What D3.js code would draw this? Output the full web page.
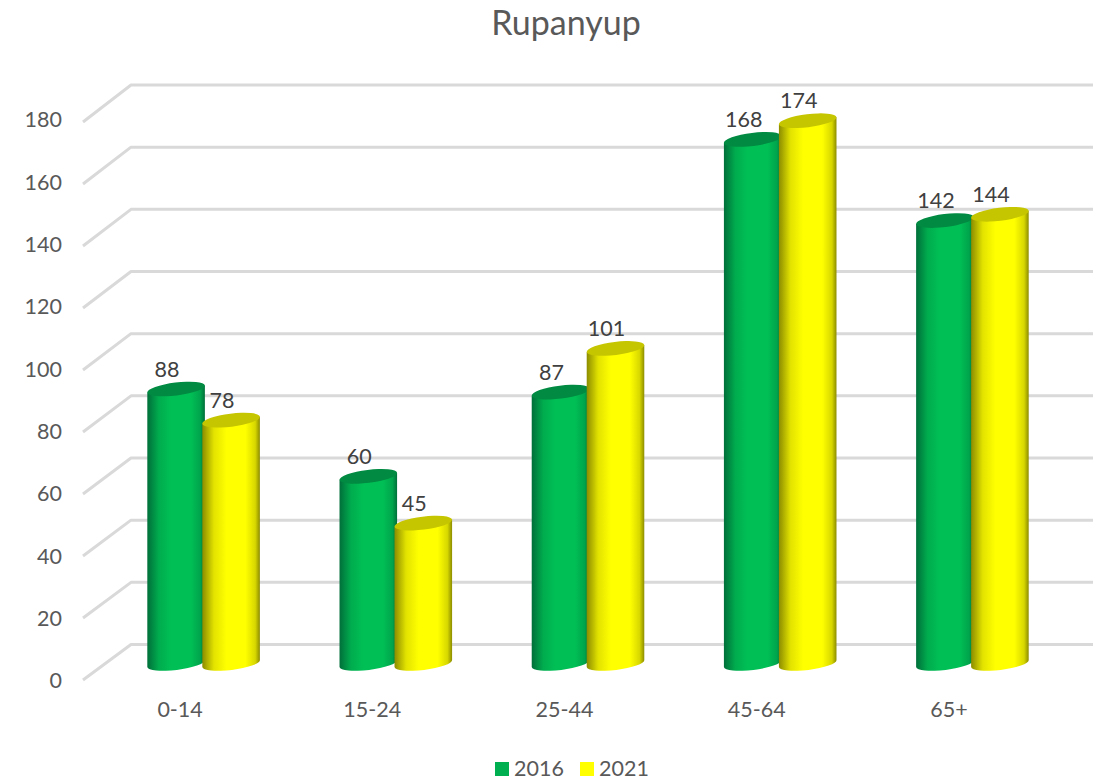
<!DOCTYPE html>
<html><head><meta charset="utf-8">
<script src="https://cdnjs.cloudflare.com/ajax/libs/d3/7.8.5/d3.min.js"></script>
<style>html,body{margin:0;padding:0;background:#fff}svg{display:block}text{font-family:Lato,"Open Sans",sans-serif}</style>
</head><body><svg id="c" width="1098" height="781"></svg>
<script>
const categories = ["0-14","15-24","25-44","45-64","65+"];
const series2016 = [88,60,87,168,142];
const series2021 = [78,45,101,174,144];
const yTicks = [0,20,40,60,80,100,120,140,160,180];
const seriesNames = ["2016","2021"];
const chartTitle = "Rupanyup";

const svg = d3.select("#c");
const xFront = d3.scaleBand().domain(categories).range([84,1045]);
const yFront = d3.scaleLinear().domain([0,180]).range([680,122]);
const yLabel = d3.scaleLinear().domain([0,180]).range([681,120]);
const yBack  = d3.scaleLinear().domain([0,180]).range([644.5,85]);
const yBar   = d3.scaleLinear().domain([0,180]).range([663.5,102]);
const backX = 131, frontX = 83, backRight = 1093;
const rx = 29, ry = 6.5, tilt = -7;
const offs = {g:-4, y:51};
const palette = [
  {edge:"#006f3a", mid:"#00c055", top:"#008a42", id:"gG"},
  {edge:"#8c8c00", mid:"#ffff00", top:"#c6c600", id:"gY"}];

const defs = svg.append("defs");
palette.forEach(p=>{
  const g = defs.append("linearGradient").attr("id",p.id);
  [[0,p.edge],[.2,d3.interpolateRgb(p.edge,p.mid)(.75)],[.42,p.mid],[.75,p.mid],[.92,d3.interpolateRgb(p.edge,p.mid)(.65)],[1,p.edge]]
    .forEach(s=>g.append("stop").attr("offset",s[0]).attr("stop-color",s[1]));
});

// gridlines
const grid = svg.append("g").attr("fill","none").attr("stroke","#d9d9d9").attr("stroke-width",3);
yTicks.forEach(t=>{
  grid.append("path").attr("stroke-linejoin","round")
    .attr("d",d3.line()([[frontX,yFront(t)],[backX,yBack(t)],[backRight,yBack(t)]]));
});

// y axis
const yAxis = svg.append("g").attr("transform","translate(62,0)")
  .call(d3.axisLeft(yLabel).tickValues(yTicks).tickSize(0).tickPadding(0));
yAxis.select(".domain").remove();
yAxis.selectAll("text").attr("font-size",21.5).attr("fill","#595959").attr("dy","0.32em")
  .style("font-family",'Lato,"Open Sans",sans-serif');

// x axis
const xAxis = svg.append("g").attr("transform","translate(0,710)")
  .call(d3.axisBottom(xFront).tickSize(0).tickPadding(0));
xAxis.select(".domain").remove();
xAxis.selectAll("text").attr("font-size",21.5).attr("fill","#595959").attr("dy","0.32em")
  .style("font-family",'Lato,"Open Sans",sans-serif');

// cylinders
const rad = tilt*Math.PI/180;
const dx = rx*Math.cos(rad), dy = rx*Math.sin(rad);
function drawBars(vals, p, off){
  const g = svg.append("g");
  vals.forEach((v,i)=>{
    const cx = xFront(categories[i]) + xFront.bandwidth()/2 + off;
    const yt = yBar(v), yb = yBar(0);
    g.append("path").attr("fill",`url(#${p.id})`)
      .attr("d",`M${cx-dx},${yt-dy}L${cx-dx},${yb-dy}A${rx},${ry},${tilt},0,0,${cx+dx},${yb+dy}L${cx+dx},${yt+dy}Z`);
    g.append("ellipse").attr("cx",cx).attr("cy",yt).attr("rx",rx).attr("ry",ry)
      .attr("fill",p.top).attr("transform",`rotate(${tilt},${cx},${yt})`);
  });
}
drawBars(series2016,palette[0],offs.g);
drawBars(series2021,palette[1],offs.y);

// data labels
[[series2016,offs.g],[series2021,offs.y]].forEach(([vals,off])=>{
  svg.append("g").selectAll("text").data(vals).join("text")
    .attr("x",(d,i)=>xFront(categories[i])+xFront.bandwidth()/2+off-9)
    .attr("y",d=>yBar(d)-20).attr("dy","0.35em")
    .attr("text-anchor","middle").attr("font-size",21.5).attr("fill","#404040")
    .text(d=>d);
});

// title
svg.append("text").attr("x",566).attr("y",35).attr("text-anchor","middle")
  .attr("font-size",34).attr("fill","#595959").text(chartTitle);

// legend
const legendX = d3.scalePoint().domain(seriesNames).range([495,580]);
const lg = svg.append("g").selectAll("g").data(seriesNames).join("g")
  .attr("transform",d=>`translate(${legendX(d)},762)`);
lg.append("rect").attr("width",14).attr("height",14).attr("fill",(d,i)=>i?"#ffff00":"#00b050");
lg.append("text").attr("x",19).attr("y",14).attr("font-size",21.5).attr("fill","#595959").text(d=>d);
</script></body></html>
